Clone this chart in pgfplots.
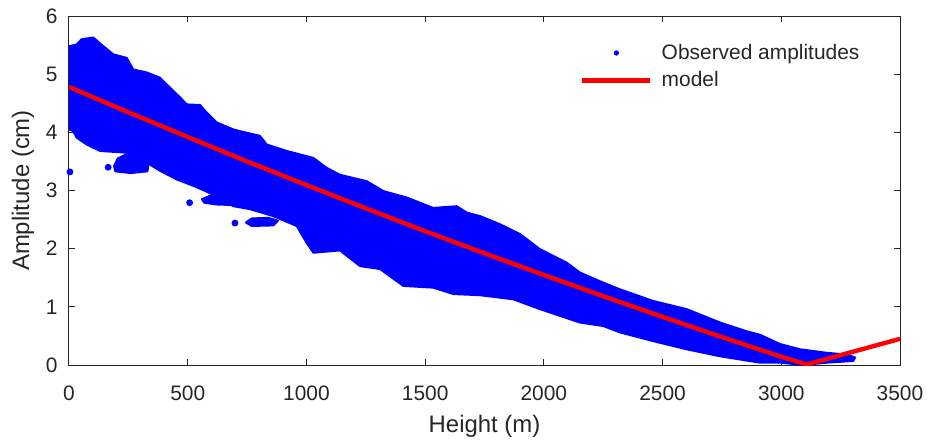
\documentclass[border=0pt]{standalone}
\usepackage{fontspec}
\setmainfont{Liberation Sans}
\usepackage{pgfplots}
\pgfplotsset{compat=1.18}
\definecolor{axgray}{rgb}{0.15,0.15,0.15}
\begin{document}
\begin{tikzpicture}
\useasboundingbox (-34.5bp,-39bp) rectangle (430.5bp,182.5bp);
\begin{axis}[
  at={(0,0)}, anchor=south west,
  scale only axis, width=415.5bp, height=174.5bp,
  xmin=0, xmax=3500, ymin=0, ymax=6,
  xtick={0,500,...,3500}, ytick={0,1,...,6},
  tick align=inside, major tick length=3bp,
  axis line style={axgray, line width=0.5bp},
  every tick/.style={axgray, line width=0.5bp},
  tick label style={font=\fontsize{10.5}{12}\selectfont, text=axgray},
  /pgf/number format/assume math mode=true,
  /pgf/number format/1000 sep={},
  xticklabel style={inner sep=0pt, anchor=north, yshift=-10bp},
  yticklabel style={inner sep=0pt, anchor=east, xshift=-5.5bp},
  xlabel={Height (m)}, ylabel={Amplitude (cm)},
  label style={font=\fontsize{12}{14}\selectfont, text=axgray},
  x label style={at={(axis description cs:0.5,-0.1948)}, anchor=base, inner sep=0pt},
  y label style={at={(axis description cs:-0.0554,0.5)}, anchor=center, inner sep=0pt},
  legend cell align=left,
  legend style={draw=none, fill=none, inner sep=0pt, outer sep=0pt,
    at={(axis cs:2152,5.52)}, anchor=north west,
    row sep=4.7bp, column sep=4.5bp,
    nodes={inner sep=0pt, font=\fontsize{10.5}{12}\selectfont, text=axgray}},
]
% dense band of observed amplitudes (outline of the point cloud)
\addplot[fill=blue, draw=blue, line width=1bp, line join=round, forget plot] coordinates {
(0,5.48) (32,5.51) (53,5.60) (102,5.63) (145,5.48) (187,5.34) (243,5.28) (271,5.08)
(327,5.03) (383,4.94) (425,4.77) (468,4.60) (496,4.48) (552,4.47) (580,4.34) (622,4.17)
(692,4.05) (720,4.02) (804,3.94) (833,3.79) (917,3.68) (1029,3.56) (1085,3.39) (1141,3.27)
(1254,3.16) (1324,2.99) (1422,2.88) (1534,2.70) (1633,2.73) (1675,2.62) (1731,2.56)
(1815,2.42) (1900,2.25) (1984,1.99) (2096,1.76) (2152,1.59) (2236,1.44) (2321,1.30)
(2461,1.10) (2602,0.96) (2742,0.73) (2854,0.58) (2910,0.52) (2995,0.36) (3079,0.27)
(3191,0.21) (3275,0.18) (3311,0.13)
(3303,0.07) (3191,0.04) (3093,0.00) (2995,0.04) (2910,0.04) (2742,0.15) (2602,0.27)
(2461,0.41) (2321,0.56) (2250,0.67) (2152,0.73) (1984,0.96) (1871,1.13) (1731,1.20)
(1619,1.22) (1534,1.33) (1408,1.36) (1310,1.65) (1226,1.70) (1141,1.97) (1029,1.93)
(1001,2.10) (959,2.39) (860,2.56) (762,2.68) (692,2.73) (636,2.88) (552,3.03) (524,3.08)
(454,3.19) (383,3.34) (327,3.48) (285,3.59) (243,3.65) (131,3.68) (75,3.79) (32,3.91)
(18,4.02) (0,4.05)
} -- cycle;
\addplot[fill=blue, draw=blue, line width=1bp, line join=round, forget plot] coordinates {
(190,3.42) (205,3.55) (250,3.64) (300,3.58) (335,3.45) (330,3.33) (260,3.30) (195,3.33)
} -- cycle;
\addplot[fill=blue, draw=blue, line width=1bp, line join=round, forget plot] coordinates {
(560,2.85) (600,2.92) (660,2.90) (690,2.75) (620,2.76) (570,2.79)
} -- cycle;
\addplot[fill=blue, draw=blue, line width=1bp, line join=round, forget plot] coordinates {
(745,2.45) (770,2.52) (840,2.53) (880,2.48) (860,2.40) (770,2.39)
} -- cycle;
% isolated observations
\addplot[only marks, mark=*, mark size=1.5bp, blue, mark options={draw=blue, fill=blue},
  legend image code/.code={\fill[blue] (17bp,0bp) circle (1.1bp);}]
  coordinates {(4,3.32) (508,2.79) (699,2.44) (165,3.40)};
\addlegendentry{Observed amplitudes}
% model
\addplot[red, line width=2.2bp, line join=round,
  legend image code/.code={\draw[red, line width=2.4bp] (0bp,0bp) -- (34bp,0bp);}]
  coordinates {(0,4.78) (250,4.345) (500,3.92) (750,3.50) (1000,3.094) (1250,2.694)
  (1500,2.30) (1750,1.92) (2000,1.548) (2250,1.183) (2500,0.828) (2750,0.48)
  (3000,0.142) (3107,0.01) (3500,0.45)};
\addlegendentry{model}
\end{axis}
\end{tikzpicture}
\end{document}
